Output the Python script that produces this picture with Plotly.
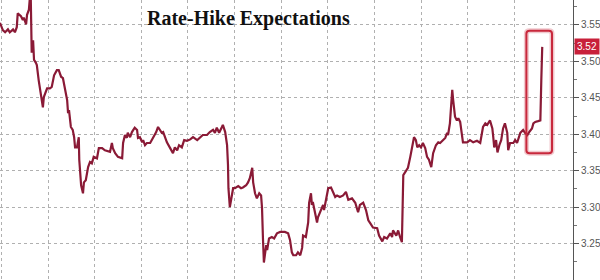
import plotly.graph_objects as go

# time in trading days (gridline per day) and implied rate
days = [-0.03, 0.01, 0.03, 0.08, 0.14, 0.18, 0.25, 0.29, 0.33, 0.35, 0.42, 0.46, 0.48, 0.53, 0.55, 0.59,
        0.61, 0.63, 0.65, 0.68, 0.69, 0.70, 0.74, 0.76, 0.80, 0.87, 0.89, 0.91, 0.98, 1.04, 1.08, 1.13,
        1.19, 1.23, 1.28, 1.32, 1.36, 1.41, 1.43, 1.45, 1.49, 1.53, 1.56, 1.58, 1.62, 1.66, 1.67, 1.71,
        1.75, 1.77, 1.81, 1.86, 1.90, 1.94, 1.98, 2.05, 2.09, 2.16, 2.22, 2.33, 2.37, 2.39, 2.44, 2.50,
        2.59, 2.61, 2.65, 2.69, 2.71, 2.76, 2.80, 2.86, 2.91, 2.93, 2.97, 3.02, 3.04, 3.08, 3.12, 3.19,
        3.25, 3.32, 3.36, 3.40, 3.44, 3.47, 3.51, 3.55, 3.62, 3.68, 3.72, 3.77, 3.81, 3.87, 3.92, 3.98,
        4.05, 4.11, 4.20, 4.26, 4.32, 4.41, 4.47, 4.54, 4.58, 4.62, 4.67, 4.73, 4.75, 4.80, 4.84, 4.86,
        4.87, 4.90, 4.95, 4.97, 5.01, 5.08, 5.14, 5.18, 5.25, 5.29, 5.33, 5.38, 5.40, 5.44, 5.48, 5.53,
        5.57, 5.59, 5.61, 5.63, 5.68, 5.70, 5.74, 5.80, 5.85, 5.91, 5.98, 6.08, 6.15, 6.19, 6.23, 6.26,
        6.32, 6.36, 6.41, 6.45, 6.47, 6.53, 6.58, 6.60, 6.64, 6.66, 6.68, 6.73, 6.77, 6.79, 6.83, 6.90,
        6.92, 6.96, 7.01, 7.07, 7.11, 7.16, 7.20, 7.26, 7.33, 7.39, 7.44, 7.52, 7.59, 7.65, 7.69, 7.76,
        7.82, 7.87, 7.91, 7.97, 8.06, 8.10, 8.17, 8.21, 8.27, 8.34, 8.38, 8.40, 8.47, 8.51, 8.55, 8.59,
        8.62, 8.68, 8.72, 8.77, 8.83, 8.85, 8.89, 8.92, 8.96, 9.00, 9.04, 9.09, 9.13, 9.17, 9.22, 9.26,
        9.32, 9.37, 9.41, 9.47, 9.52, 9.56, 9.58, 9.62, 9.67, 9.69, 9.73, 9.77, 9.80, 9.84, 9.88, 9.90,
        9.99, 10.05, 10.12, 10.20, 10.27, 10.31, 10.33, 10.38, 10.42, 10.48, 10.53, 10.55, 10.57, 10.61,
        10.64, 10.68, 10.72, 10.76, 10.80, 10.85, 10.87, 10.91, 10.98, 11.02, 11.06, 11.13, 11.19, 11.23,
        11.28, 11.32, 11.38, 11.41, 11.45, 11.51, 11.56, 11.58, 11.60]

rates = [3.553, 3.547, 3.543, 3.540, 3.544, 3.540, 3.544, 3.540, 3.547, 3.566, 3.562, 3.557, 3.560, 3.551, 3.564, 3.571,
         3.587, 3.587, 3.512, 3.529, 3.509, 3.502, 3.498, 3.495, 3.474, 3.447, 3.437, 3.451, 3.463, 3.463, 3.465, 3.481,
         3.488, 3.488, 3.479, 3.477, 3.465, 3.447, 3.429, 3.433, 3.410, 3.406, 3.396, 3.382, 3.382, 3.396, 3.365, 3.330,
         3.319, 3.334, 3.337, 3.355, 3.362, 3.360, 3.369, 3.367, 3.381, 3.381, 3.378, 3.376, 3.388, 3.381, 3.374, 3.369,
         3.367, 3.388, 3.399, 3.395, 3.402, 3.396, 3.403, 3.409, 3.406, 3.395, 3.396, 3.389, 3.392, 3.385, 3.388, 3.388,
         3.395, 3.403, 3.410, 3.406, 3.402, 3.403, 3.395, 3.389, 3.381, 3.374, 3.382, 3.378, 3.385, 3.382, 3.392, 3.391,
         3.393, 3.396, 3.392, 3.395, 3.399, 3.399, 3.403, 3.406, 3.402, 3.409, 3.402, 3.410, 3.413, 3.403, 3.385, 3.358,
         3.326, 3.300, 3.316, 3.326, 3.326, 3.329, 3.326, 3.327, 3.330, 3.334, 3.340, 3.354, 3.334, 3.319, 3.312, 3.319,
         3.316, 3.299, 3.257, 3.224, 3.248, 3.241, 3.257, 3.259, 3.257, 3.264, 3.266, 3.266, 3.264, 3.255, 3.238, 3.234,
         3.234, 3.238, 3.234, 3.244, 3.261, 3.259, 3.279, 3.306, 3.319, 3.303, 3.307, 3.292, 3.279, 3.286, 3.293, 3.303,
         3.296, 3.312, 3.326, 3.327, 3.321, 3.314, 3.316, 3.314, 3.316, 3.321, 3.310, 3.312, 3.306, 3.293, 3.303, 3.306,
         3.296, 3.282, 3.278, 3.272, 3.271, 3.261, 3.253, 3.259, 3.257, 3.264, 3.259, 3.268, 3.261, 3.268, 3.259, 3.252,
         3.344, 3.351, 3.354, 3.369, 3.389, 3.396, 3.392, 3.382, 3.385, 3.382, 3.388, 3.381, 3.369, 3.365, 3.355, 3.374,
         3.385, 3.389, 3.388, 3.392, 3.395, 3.402, 3.399, 3.415, 3.461, 3.447, 3.424, 3.419, 3.422, 3.417, 3.402, 3.389,
         3.389, 3.392, 3.389, 3.391, 3.388, 3.408, 3.410, 3.415, 3.413, 3.419, 3.408, 3.396, 3.382, 3.392,
         3.375, 3.385, 3.392, 3.408, 3.415, 3.402, 3.378, 3.388, 3.388, 3.392, 3.388, 3.402, 3.406, 3.402,
         3.399, 3.403, 3.408, 3.415, 3.417, 3.418, 3.419, 3.474, 3.520]

y_ticks = [3.20, 3.25, 3.30, 3.35, 3.40, 3.45, 3.50, 3.55]
y_labels = ["3.20", "3.25", "3.30", "3.35", "3.40", "3.45", "3.50", "3.55"]
day_grid = list(range(12))
title_text = "Rate-Hike Expectations"
last_label = "3.52"
last_value = 3.52

# highlight box around the final jump
box_x0, box_x1 = 11.26, 11.81
box_y0, box_y1 = 3.374, 3.542
rx, ry = 0.07, 0.004

def rounded(x0, x1, y0, y1, rx, ry):
    return (f"M {x0+rx},{y1} L {x1-rx},{y1} Q {x1},{y1} {x1},{y1-ry} "
            f"L {x1},{y0+ry} Q {x1},{y0} {x1-rx},{y0} L {x0+rx},{y0} "
            f"Q {x0},{y0} {x0},{y0+ry} L {x0},{y1-ry} Q {x0},{y1} {x0+rx},{y1} Z")

fig = go.Figure()
fig.add_trace(go.Scatter(x=days, y=rates, mode="lines",
                         line=dict(color="#8a1a36", width=2.2), hoverinfo="skip"))

box_path = rounded(box_x0, box_x1, box_y0, box_y1, rx, ry)
fig.add_shape(type="path", path=box_path, xref="x", yref="y",
              line=dict(color="rgba(200,40,60,0.25)", width=5))
fig.add_shape(type="path", path=box_path, xref="x", yref="y",
              line=dict(color="#c8283c", width=2))

fig.add_annotation(text="<b>" + title_text + "</b>", xref="paper", yref="paper",
                   x=0.434, y=1 - 18 / 280, xanchor="center", yanchor="middle",
                   showarrow=False,
                   font=dict(family="Liberation Serif", size=20, color="#111111"))

fig.add_annotation(text=last_label, xref="paper", yref="y", x=1, y=last_value,
                   xanchor="left", yanchor="middle", xshift=1, showarrow=False,
                   bgcolor="#c8203a", borderpad=2,
                   font=dict(family="Liberation Sans", size=10, color="white"))

fig.update_layout(
    width=600, height=280,
    margin=dict(l=0, r=27, t=0, b=0),
    paper_bgcolor="white", plot_bgcolor="white",
    showlegend=False,
    xaxis=dict(range=[-0.03, 12.26], tickvals=day_grid, showticklabels=False,
               showgrid=True, gridcolor="#b0b0b0", griddash="dot", gridwidth=1,
               zeroline=False, showline=False, ticks=""),
    yaxis=dict(range=[3.20, 3.5843], side="right", tickvals=y_ticks, ticktext=y_labels,
               showgrid=True, gridcolor="#b0b0b0", griddash="dot", gridwidth=1,
               zeroline=False, showline=True, linecolor="#555555", linewidth=1,
               ticks="outside", ticklen=5, tickcolor="#555555",
               minor=dict(ticks="outside", ticklen=3, tickcolor="#777777", dtick=0.025, showgrid=False),
               tickfont=dict(family="Liberation Sans", size=10, color="#555555")),
)

fig.write_html("out.html")
